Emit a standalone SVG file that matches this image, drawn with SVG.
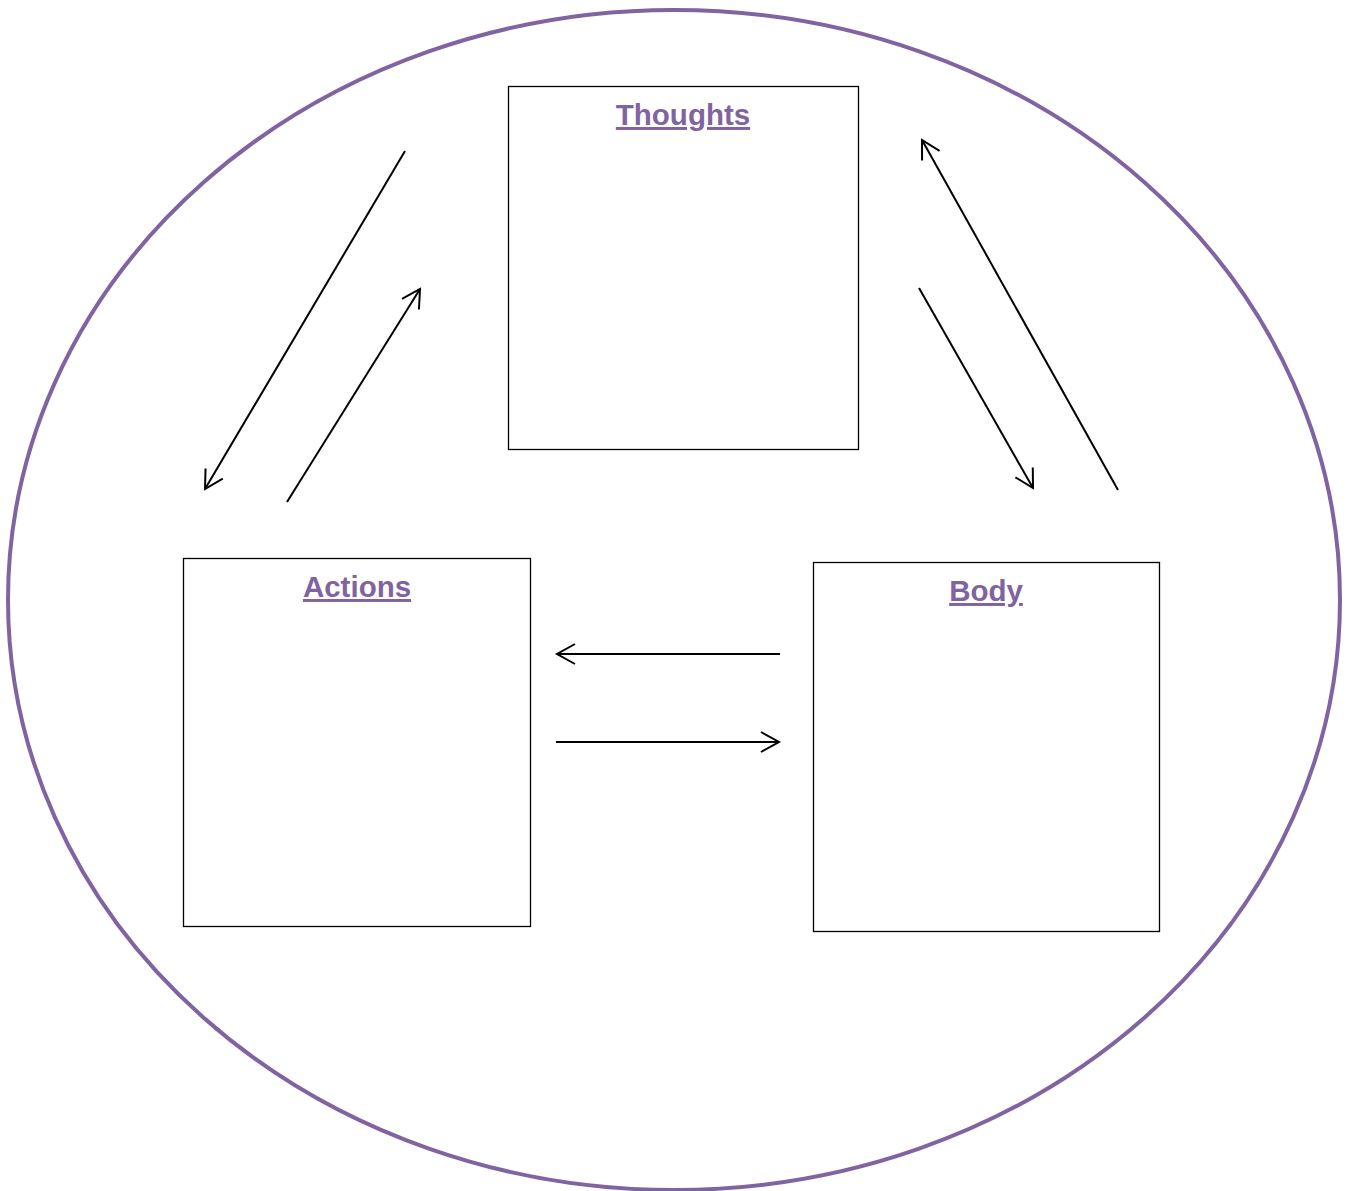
<svg xmlns="http://www.w3.org/2000/svg" width="1347" height="1191" viewBox="0 0 1347 1191">
<style>
.box{fill:#fff;stroke:#000;stroke-width:1.3}
.lbl{font-family:"Liberation Sans",Arial,sans-serif;font-weight:bold;font-size:29.5px;fill:#8064a2;text-decoration:underline;text-anchor:middle}
.conn{stroke:#000;stroke-width:2;fill:none;marker-end:url(#ah)}
</style>
<defs>
<marker id="ah" markerUnits="userSpaceOnUse" markerWidth="30" markerHeight="30" refX="20" refY="15" orient="auto">
<path d="M2,5 L20,15 L2,25" fill="none" stroke="#000" stroke-width="2"/>
</marker>
</defs>
<rect width="1347" height="1191" fill="#fff"/>
<ellipse id="circle" cx="674" cy="600" rx="666" ry="590" fill="none" stroke="#8064a2" stroke-width="4"/>
<g id="thoughts"><rect class="box" x="508.5" y="86.5" width="350" height="363"/><text class="lbl" x="683" y="125">Thoughts</text></g>
<g id="actions"><rect class="box" x="183.5" y="558.5" width="347" height="368"/><text class="lbl" x="357" y="597">Actions</text></g>
<g id="body"><rect class="box" x="813.5" y="562.5" width="346" height="369"/><text class="lbl" x="986" y="601">Body</text></g>
<g id="connectors">
<line class="conn" x1="405" y1="151" x2="205" y2="489"/>
<line class="conn" x1="287" y1="502" x2="420" y2="289"/>
<line class="conn" x1="1118" y1="490" x2="922" y2="140"/>
<line class="conn" x1="919" y1="288" x2="1033" y2="488"/>
<line class="conn" x1="780" y1="654" x2="557" y2="654"/>
<line class="conn" x1="556" y1="742" x2="779" y2="742"/>
</g>
</svg>
